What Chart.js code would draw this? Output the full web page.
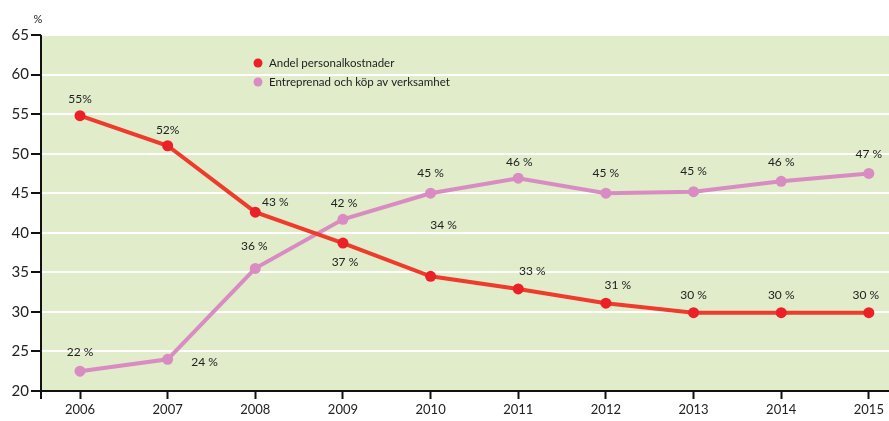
<!DOCTYPE html>
<html>
<head>
<meta charset="utf-8">
<script src="https://cdn.jsdelivr.net/npm/chart.js@4.4.1/dist/chart.umd.min.js"></script>
<style>
  html, body { margin: 0; padding: 0; background: #fff; }
  #wrap { position: relative; width: 889px; height: 421px; }
</style>
</head>
<body>
<div id="wrap"><canvas id="chart" width="889" height="421"></canvas></div>
<script>
// data
const years = [2006, 2007, 2008, 2009, 2010, 2011, 2012, 2013, 2014, 2015];
const personalValues = [54.8, 51.0, 42.6, 38.7, 34.5, 32.9, 31.1, 29.9, 29.9, 29.9];
const entreprenadValues = [22.5, 24.0, 35.5, 41.7, 45.0, 46.9, 45.0, 45.2, 46.5, 47.5];
const personalLabels = ['55%', '52%', '43 %', '37 %', '34 %', '33 %', '31 %', '30 %', '30 %', '30 %'];
const entreprenadLabels = ['22 %', '24 %', '36 %', '42 %', '45 %', '46 %', '45 %', '45 %', '46 %', '47 %'];
const yTicks = [20, 25, 30, 35, 40, 45, 50, 55, 60, 65];
const seriesNames = ['Andel personalkostnader', 'Entreprenad och köp av verksamhet'];

// label placement relative to each point (pixels)
const personalOffsets = [[0, -17], [0, -16], [20, -10], [2, 19], [13, -51], [14, -18], [12, -18], [0, -18], [0, -18], [-3, -18]];
const entreprenadOffsets = [[0, -19], [37, 3], [-1, -22], [1, -16], [0, -20], [1, -16], [0, -20], [0, -21], [0, -19], [0, -19]];

const RED = '#ec2127';
const RED_LINE = '#ef3b2c';
const PINK = '#d98cc2';
const BG = '#e0ecca';
const FONT = "Lato, 'Open Sans', sans-serif";

const plotBackground = {
    id: 'plotBackground',
    beforeDraw(chart) {
        const { ctx, chartArea } = chart;
        ctx.save();
        ctx.fillStyle = BG;
        ctx.fillRect(chartArea.left, chartArea.top, chartArea.right - chartArea.left, chartArea.bottom - chartArea.top);
        ctx.restore();
    }
};

const extras = {
    id: 'extras',
    afterDraw(chart) {
        const { ctx, chartArea } = chart;
        ctx.save();
        // axis lines
        ctx.strokeStyle = '#111';
        ctx.lineWidth = 2;
        ctx.beginPath();
        ctx.moveTo(chartArea.left, chartArea.top);
        ctx.lineTo(chartArea.left, chartArea.bottom + 8);
        ctx.moveTo(chartArea.left - 10, chartArea.bottom);
        ctx.lineTo(chartArea.right, chartArea.bottom);
        ctx.stroke();

        // unit
        ctx.fillStyle = '#222';
        ctx.font = '11px ' + FONT;
        ctx.textAlign = 'center';
        ctx.textBaseline = 'middle';
        ctx.fillText('%', 38, 19);

        // data labels
        ctx.font = '12px ' + FONT;
        const sets = [[personalLabels, personalOffsets], [entreprenadLabels, entreprenadOffsets]];
        sets.forEach(([labels, offs], di) => {
            chart.getDatasetMeta(di).data.forEach((pt, i) => {
                ctx.fillText(labels[i], pt.x + offs[i][0], pt.y + offs[i][1]);
            });
        });

        // legend
        const lx = 258, ly = [63, 82];
        const colors = [RED, PINK];
        ctx.textAlign = 'left';
        ctx.font = '11.5px ' + FONT;
        seriesNames.forEach((name, i) => {
            ctx.fillStyle = colors[i];
            ctx.beginPath();
            ctx.arc(lx, ly[i], 4.5, 0, Math.PI * 2);
            ctx.fill();
            ctx.fillStyle = '#222';
            ctx.fillText(name, lx + 11, ly[i]);
        });
        ctx.restore();
    }
};

new Chart(document.getElementById('chart'), {
    type: 'line',
    data: {
        datasets: [
            {
                label: seriesNames[0],
                data: years.map((y, i) => ({ x: y, y: personalValues[i] })),
                borderColor: RED_LINE,
                backgroundColor: RED,
                borderWidth: 4,
                pointRadius: 5.5,
                pointBorderWidth: 0,
                tension: 0
            },
            {
                label: seriesNames[1],
                data: years.map((y, i) => ({ x: y, y: entreprenadValues[i] })),
                borderColor: PINK,
                backgroundColor: PINK,
                borderWidth: 4,
                pointRadius: 5.5,
                pointBorderWidth: 0,
                tension: 0
            }
        ]
    },
    options: {
        responsive: false,
        animation: false,
        layout: { autoPadding: false, padding: { top: 35, right: 0, left: 0, bottom: 0 } },
        plugins: {
            legend: { display: false },
            tooltip: { enabled: false }
        },
        scales: {
            x: {
                type: 'linear',
                min: 2005.555,
                max: 2015.23,
                afterBuildTicks(scale) {
                    scale.ticks = years.map(v => ({ value: v }));
                },
                afterFit(scale) {
                    scale.height = 30;
                    scale.paddingRight = 0;
                    scale.paddingLeft = 0;
                },
                grid: {
                    drawOnChartArea: false,
                    drawTicks: true,
                    tickLength: 8,
                    tickColor: '#111',
                    tickWidth: 2
                },
                border: { display: false },
                ticks: {
                    color: '#222',
                    font: { family: FONT, size: 13 },
                    padding: 3,
                    maxRotation: 0,
                    callback: v => String(v)
                }
            },
            y: {
                min: 20,
                max: 65,
                afterBuildTicks(scale) {
                    scale.ticks = yTicks.map(v => ({ value: v }));
                },
                afterFit(scale) { scale.width = 41; },
                grid: {
                    color: '#ffffff',
                    lineWidth: 2,
                    drawTicks: true,
                    tickLength: 10,
                    tickColor: '#111',
                    tickWidth: 2
                },
                border: { display: false },
                ticks: {
                    color: '#222',
                    font: { family: FONT, size: 15 },
                    padding: 2
                }
            }
        }
    },
    plugins: [plotBackground, extras]
});
</script>
</body>
</html>
